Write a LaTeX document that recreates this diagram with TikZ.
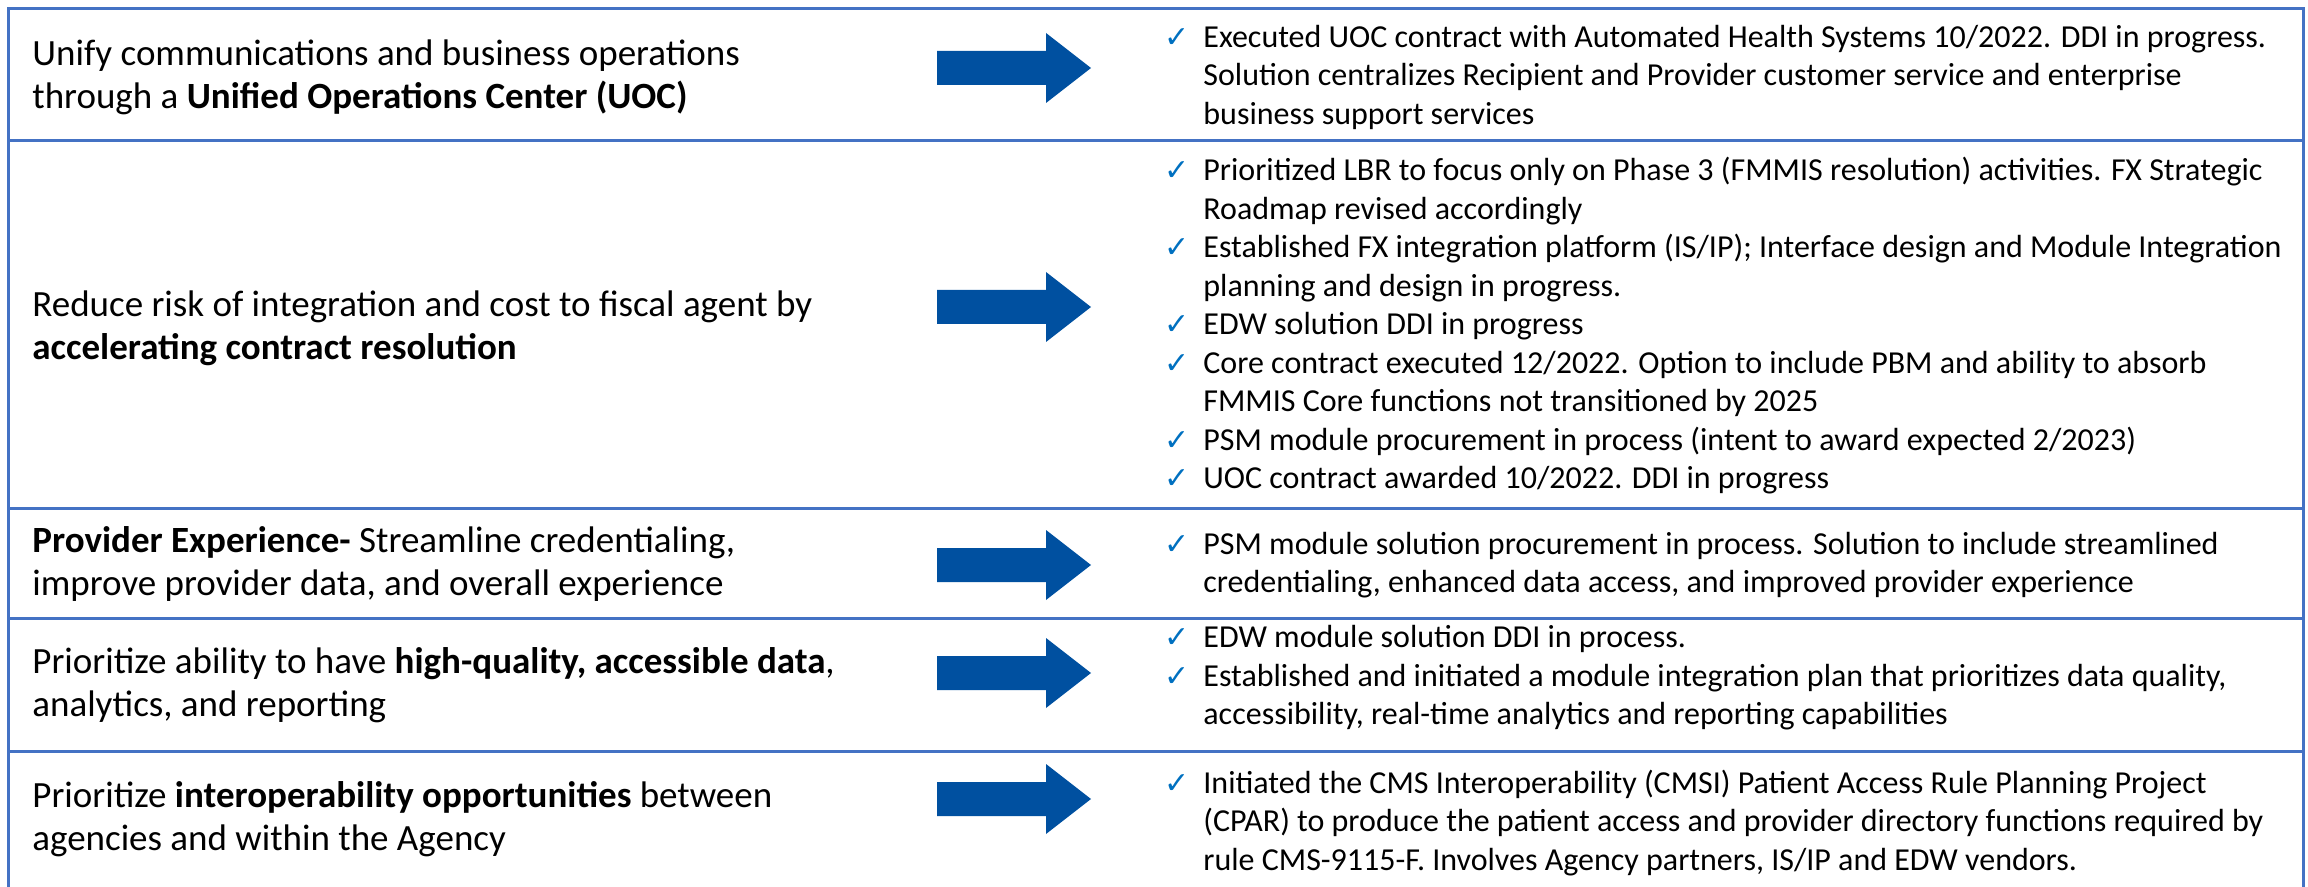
\documentclass[tikz,border=0pt]{standalone}
\usepackage{fontspec}
\setmainfont{Carlito}
\newfontfamily\symfont{DejaVu Sans}
\usepackage{tikz}

\definecolor{rowline}{HTML}{4472C4}
\definecolor{arrowfill}{HTML}{0050A0}
\definecolor{tickblue}{HTML}{0070C0}
\newcommand{\tick}{\llap{{\symfont\color{tickblue}\fontsize{15}{15}\selectfont ✓}\hspace{7pt}}}

\tikzset{
  goal/.style={anchor=west, align=left, inner sep=0pt, font=\fontsize{18.5}{21.5}\selectfont},
  status/.style={anchor=west, align=left, inner sep=0pt, font=\fontsize{16}{19.25}\selectfont},
}

\begin{document}
\begin{tikzpicture}[x=0.5pt, y=-0.5pt]
    \useasboundingbox (0,0) rectangle (2308,887);

    % frame and row rules
    \draw[rowline, line width=1.5pt] (8,887) -- (8,9) -- (2303,9) -- (2303,887);
    \foreach \y in {141, 509, 618, 751} {
      \draw[rowline, line width=1.5pt] (8,\y) -- (2303,\y);
    }

    % block arrows
    \foreach \y in {68, 307, 565, 673, 799} {
      \fill[arrowfill] (937,\y-17) -- (1046,\y-17) -- (1046,\y-35) -- (1091,\y)
        -- (1046,\y+35) -- (1046,\y+17) -- (937,\y+17) -- cycle;
    }

    % goals
    \node[goal] (uoc) at (32,77) {Unify communications and business operations\\through a \textbf{Unified Operations Center (UOC)}};
    \node[goal] (risk) at (32,328) {Reduce risk of integration and cost to fiscal agent by\\\textbf{accelerating contract resolution}};
    \node[goal] (prov) at (32,564) {\textbf{Provider Experience-} Streamline credentialing,\\improve provider data, and overall experience};
    \node[goal] (data) at (32,685) {Prioritize ability to have \textbf{high-quality, accessible data},\\analytics, and reporting};
    \node[goal] (interop) at (32,819) {Prioritize \textbf{interoperability opportunities} between\\agencies and within the Agency};

    % status
    \node[status] (uocstat) at (1203,77) {\tick Executed UOC contract with Automated Health Systems 10/2022. DDI in progress.\\Solution centralizes Recipient and Provider customer service and enterprise\\business support services};
    \node[status] (riskstat) at (1203,326) {\tick Prioritized LBR to focus only on Phase 3 (FMMIS resolution) activities. FX Strategic\\Roadmap revised accordingly\\\tick Established FX integration platform (IS/IP); Interface design and Module Integration\\planning and design in progress.\\\tick EDW solution DDI in progress\\\tick Core contract executed 12/2022. Option to include PBM and ability to absorb\\FMMIS Core functions not transitioned by 2025\\\tick PSM module procurement in process (intent to award expected 2/2023)\\\tick UOC contract awarded 10/2022. DDI in progress};
    \node[status] (provstat) at (1203,565) {\tick PSM module solution procurement in process. Solution to include streamlined\\credentialing, enhanced data access, and improved provider experience};
    \node[status] (datastat) at (1203,678) {\tick EDW module solution DDI in process.\\\tick Established and initiated a module integration plan that prioritizes data quality,\\accessibility, real-time analytics and reporting capabilities};
    \node[status] (interopstat) at (1203,823) {\tick Initiated the CMS Interoperability (CMSI) Patient Access Rule Planning Project\\(CPAR) to produce the patient access and provider directory functions required by\\rule CMS-9115-F. Involves Agency partners, IS/IP and EDW vendors.};
\end{tikzpicture}
\end{document}
